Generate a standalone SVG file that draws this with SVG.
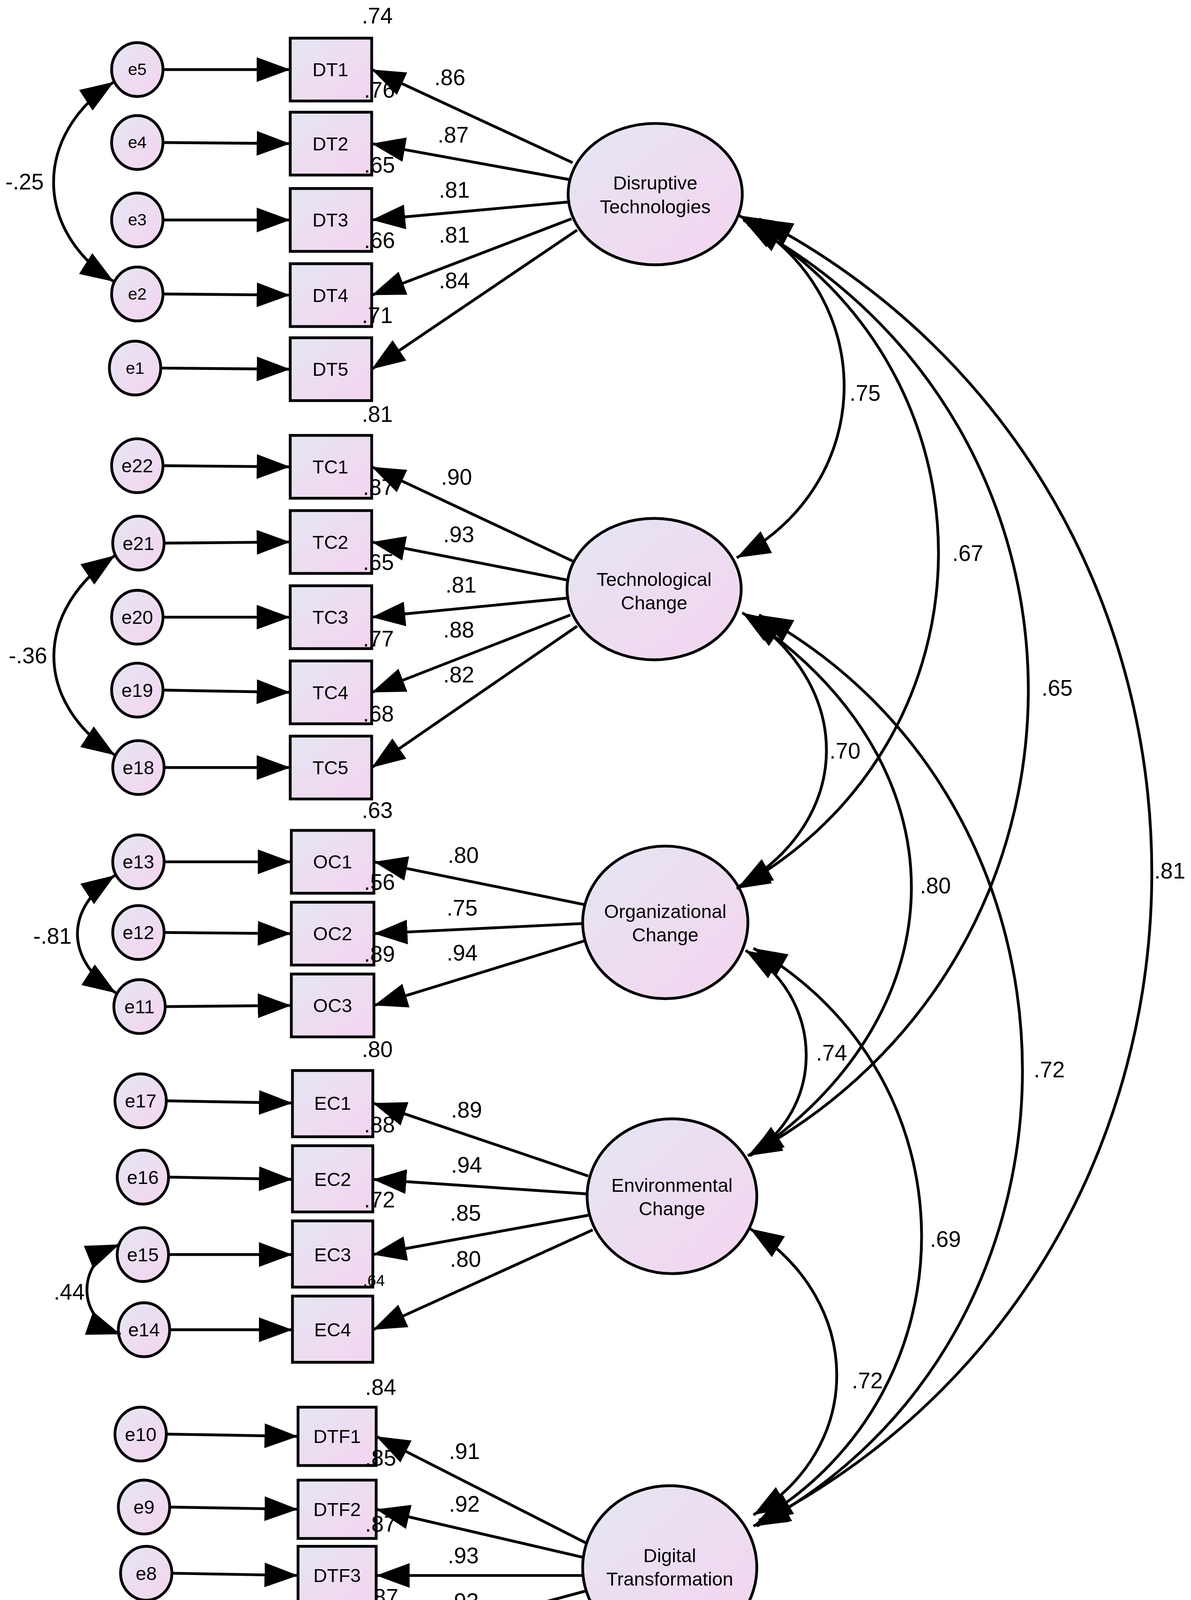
<svg xmlns="http://www.w3.org/2000/svg" width="3050" height="4490" viewBox="0 0 3050 4490">
<defs>
<linearGradient id="g" x1="0" y1="0" x2="1" y2="1"><stop offset="0" stop-color="#e4e6f2"/><stop offset="1" stop-color="#f5d4f0"/></linearGradient>
<marker id="a" viewBox="0 0 10 10" refX="10" refY="5" markerWidth="30" markerHeight="22" markerUnits="userSpaceOnUse" orient="auto-start-reverse" preserveAspectRatio="none"><path d="M0,0L10,5L0,10z" fill="#000"/></marker>
<style>
.n{fill:url(#g);stroke:#000;stroke-width:2.5}
.c path,.c line{fill:none;stroke:#000;stroke-width:2.5}
.s{marker-end:url(#a)}
.d{marker-start:url(#a);marker-end:url(#a)}
text{font-family:"Liberation Sans",Arial,sans-serif;fill:#000}
.l{font-size:17px;text-anchor:middle}
.e{font-size:15px;text-anchor:middle}
.v{font-size:20px;text-anchor:middle}
</style>
</defs>
<rect width="3050" height="4490" fill="#fff"/>
<g transform="scale(2.8585,2.8727)">
<g id="errors">
<g id="e5"><ellipse class="n" cx="123" cy="62" rx="23" ry="24"/><text class="e" x="123" y="67" font-size="13">e5</text></g>
<g id="e4"><ellipse class="n" cx="123" cy="127" rx="23" ry="24"/><text class="e" x="123" y="132">e4</text></g>
<g id="e3"><ellipse class="n" cx="123" cy="196" rx="23" ry="24"/><text class="e" x="123" y="201">e3</text></g>
<g id="e2"><ellipse class="n" cx="123" cy="262" rx="23" ry="24"/><text class="e" x="123" y="267">e2</text></g>
<g id="e1"><ellipse class="n" cx="121" cy="328" rx="23" ry="24"/><text class="e" x="121" y="333">e1</text></g>
<g id="e22"><ellipse class="n" cx="123" cy="415" rx="23" ry="24"/><text class="e" x="123" y="421" style="font-size:17px">e22</text></g>
<g id="e21"><ellipse class="n" cx="124" cy="484" rx="23" ry="24"/><text class="e" x="124" y="490" style="font-size:17px">e21</text></g>
<g id="e20"><ellipse class="n" cx="123" cy="550" rx="23" ry="24"/><text class="e" x="123" y="556" style="font-size:17px">e20</text></g>
<g id="e19"><ellipse class="n" cx="123" cy="615" rx="23" ry="24"/><text class="e" x="123" y="621" style="font-size:17px">e19</text></g>
<g id="e18"><ellipse class="n" cx="124" cy="684" rx="23" ry="24"/><text class="e" x="124" y="690" style="font-size:17px">e18</text></g>
<g id="e13"><ellipse class="n" cx="124" cy="768" rx="23" ry="24"/><text class="e" x="124" y="774" style="font-size:17px">e13</text></g>
<g id="e12"><ellipse class="n" cx="124" cy="831" rx="23" ry="24"/><text class="e" x="124" y="837" style="font-size:17px">e12</text></g>
<g id="e11"><ellipse class="n" cx="125" cy="897" rx="23" ry="24"/><text class="e" x="125" y="903" style="font-size:17px">e11</text></g>
<g id="e17"><ellipse class="n" cx="126" cy="981" rx="23" ry="24"/><text class="e" x="126" y="987" style="font-size:17px">e17</text></g>
<g id="e16"><ellipse class="n" cx="128" cy="1049" rx="23" ry="24"/><text class="e" x="128" y="1055" style="font-size:17px">e16</text></g>
<g id="e15"><ellipse class="n" cx="128" cy="1118" rx="23" ry="24"/><text class="e" x="128" y="1124" style="font-size:17px">e15</text></g>
<g id="e14"><ellipse class="n" cx="129" cy="1185" rx="23" ry="24"/><text class="e" x="129" y="1191" style="font-size:17px">e14</text></g>
<g id="e10"><ellipse class="n" cx="126" cy="1278" rx="23" ry="24"/><text class="e" x="126" y="1284" style="font-size:17px">e10</text></g>
<g id="e9"><ellipse class="n" cx="129" cy="1343" rx="23" ry="24"/><text class="e" x="129" y="1349" style="font-size:17px">e9</text></g>
<g id="e8"><ellipse class="n" cx="131" cy="1402" rx="23" ry="24"/><text class="e" x="131" y="1408" style="font-size:17px">e8</text></g>
<g id="e7"><ellipse class="n" cx="130" cy="1466" rx="23" ry="24"/><text class="e" x="130" y="1472" style="font-size:17px">e7</text></g>
<g id="e6"><ellipse class="n" cx="133" cy="1531" rx="23" ry="24"/><text class="e" x="133" y="1537" style="font-size:17px">e6</text></g>
</g>
<g id="observed">
<g id="DT1"><rect class="n" x="260" y="34" width="73" height="56"/><text class="l" x="296" y="68">DT1</text></g>
<g id="DT2"><rect class="n" x="260" y="100" width="73" height="56"/><text class="l" x="296" y="134">DT2</text></g>
<g id="DT3"><rect class="n" x="260" y="168" width="73" height="56"/><text class="l" x="296" y="202">DT3</text></g>
<g id="DT4"><rect class="n" x="260" y="235" width="73" height="56"/><text class="l" x="296" y="269">DT4</text></g>
<g id="DT5"><rect class="n" x="260" y="301" width="73" height="56"/><text class="l" x="296" y="335">DT5</text></g>
<g id="TC1"><rect class="n" x="260" y="388" width="73" height="56"/><text class="l" x="296" y="422">TC1</text></g>
<g id="TC2"><rect class="n" x="260" y="455" width="73" height="56"/><text class="l" x="296" y="489">TC2</text></g>
<g id="TC3"><rect class="n" x="260" y="522" width="73" height="56"/><text class="l" x="296" y="556">TC3</text></g>
<g id="TC4"><rect class="n" x="260" y="589" width="73" height="56"/><text class="l" x="296" y="623">TC4</text></g>
<g id="TC5"><rect class="n" x="260" y="656" width="73" height="56"/><text class="l" x="296" y="690">TC5</text></g>
<g id="OC1"><rect class="n" x="261" y="740" width="74" height="56"/><text class="l" x="298" y="774">OC1</text></g>
<g id="OC2"><rect class="n" x="261" y="804" width="74" height="56"/><text class="l" x="298" y="838">OC2</text></g>
<g id="OC3"><rect class="n" x="261" y="868" width="74" height="56"/><text class="l" x="298" y="902">OC3</text></g>
<g id="EC1"><rect class="n" x="262" y="954" width="72" height="59"/><text class="l" x="298" y="989">EC1</text></g>
<g id="EC2"><rect class="n" x="262" y="1021" width="72" height="59"/><text class="l" x="298" y="1057">EC2</text></g>
<g id="EC3"><rect class="n" x="262" y="1088" width="72" height="59"/><text class="l" x="298" y="1124">EC3</text></g>
<g id="EC4"><rect class="n" x="262" y="1155" width="72" height="59"/><text class="l" x="298" y="1191">EC4</text></g>
<g id="DTF1"><rect class="n" x="267" y="1254" width="70" height="52"/><text class="l" x="302" y="1286">DTF1</text></g>
<g id="DTF2"><rect class="n" x="267" y="1319" width="70" height="52"/><text class="l" x="302" y="1351">DTF2</text></g>
<g id="DTF3"><rect class="n" x="267" y="1378" width="70" height="52"/><text class="l" x="302" y="1410">DTF3</text></g>
<g id="DTF4"><rect class="n" x="267" y="1442" width="70" height="52"/><text class="l" x="302" y="1474">DTF4</text></g>
<g id="DTF5"><rect class="n" x="267" y="1505" width="70" height="52"/><text class="l" x="302" y="1537">DTF5</text></g>
</g>
<g id="latents">
<g id="DT"><ellipse class="n" cx="587" cy="173" rx="78" ry="63"/><text class="l" x="587" y="169">Disruptive</text><text class="l" x="587" y="190">Technologies</text></g>
<g id="TC"><ellipse class="n" cx="586" cy="525" rx="78" ry="63"/><text class="l" x="586" y="522">Technological</text><text class="l" x="586" y="543">Change</text></g>
<g id="OC"><ellipse class="n" cx="596" cy="822" rx="74" ry="68"/><text class="l" x="596" y="818">Organizational</text><text class="l" x="596" y="839">Change</text></g>
<g id="EC"><ellipse class="n" cx="602" cy="1066" rx="76" ry="69"/><text class="l" x="602" y="1062">Environmental</text><text class="l" x="602" y="1083">Change</text></g>
<g id="DTF"><ellipse class="n" cx="600" cy="1397" rx="78" ry="73"/><text class="l" x="600" y="1392">Digital</text><text class="l" x="600" y="1413">Transformation</text></g>
</g>
<g id="connectors" class="c">
<line class="s" x1="146" y1="62" x2="260" y2="62"/>
<line class="s" x1="146" y1="127" x2="260" y2="128"/>
<line class="s" x1="146" y1="196" x2="260" y2="196"/>
<line class="s" x1="146" y1="262" x2="260" y2="263"/>
<line class="s" x1="144" y1="328" x2="260" y2="329"/>
<line class="s" x1="146" y1="415" x2="260" y2="416"/>
<line class="s" x1="147" y1="484" x2="260" y2="483"/>
<line class="s" x1="146" y1="550" x2="260" y2="550"/>
<line class="s" x1="146" y1="615" x2="260" y2="617"/>
<line class="s" x1="147" y1="684" x2="260" y2="684"/>
<line class="s" x1="147" y1="768" x2="261" y2="768"/>
<line class="s" x1="147" y1="831" x2="261" y2="832"/>
<line class="s" x1="148" y1="897" x2="261" y2="896"/>
<line class="s" x1="149" y1="981" x2="262" y2="983"/>
<line class="s" x1="151" y1="1049" x2="262" y2="1051"/>
<line class="s" x1="151" y1="1118" x2="262" y2="1118"/>
<line class="s" x1="152" y1="1185" x2="262" y2="1185"/>
<line class="s" x1="149" y1="1278" x2="267" y2="1280"/>
<line class="s" x1="152" y1="1343" x2="267" y2="1345"/>
<line class="s" x1="154" y1="1402" x2="267" y2="1404"/>
<line class="s" x1="153" y1="1466" x2="267" y2="1468"/>
<line class="s" x1="156" y1="1531" x2="267" y2="1531"/>
<line class="s" x1="513" y1="145" x2="333" y2="62"/>
<line class="s" x1="510" y1="160" x2="333" y2="128"/>
<line class="s" x1="509" y1="180" x2="333" y2="196"/>
<line class="s" x1="512" y1="195" x2="333" y2="263"/>
<line class="s" x1="517" y1="205" x2="333" y2="329"/>
<line class="s" x1="513" y1="500" x2="333" y2="416"/>
<line class="s" x1="509" y1="517" x2="333" y2="483"/>
<line class="s" x1="508" y1="533" x2="333" y2="550"/>
<line class="s" x1="511" y1="548" x2="333" y2="617"/>
<line class="s" x1="517" y1="558" x2="333" y2="684"/>
<line class="s" x1="523" y1="806" x2="335" y2="768"/>
<line class="s" x1="522" y1="823" x2="335" y2="832"/>
<line class="s" x1="525" y1="838" x2="335" y2="896"/>
<line class="s" x1="527" y1="1048" x2="334" y2="983"/>
<line class="s" x1="527" y1="1064" x2="334" y2="1051"/>
<line class="s" x1="527" y1="1083" x2="334" y2="1118"/>
<line class="s" x1="531" y1="1096" x2="334" y2="1185"/>
<line class="s" x1="525" y1="1375" x2="337" y2="1280"/>
<line class="s" x1="523" y1="1388" x2="337" y2="1345"/>
<line class="s" x1="522" y1="1404" x2="337" y2="1404"/>
<line class="s" x1="524" y1="1418" x2="337" y2="1468"/>
<line class="s" x1="530" y1="1432" x2="337" y2="1531"/>
<path class="d" d="M102,73 C30,120 30,205 102,251"/>
<path class="d" d="M103,495 C30,545 30,625 103,673"/>
<path class="d" d="M103,780 C58,810 58,855 104,885"/>
<path class="d" d="M107,1109 C68,1125 68,1175 108,1189"/>
<path class="d" d="M662,192 C788,260 788,430 660,497"/>
<path class="d" d="M666,196 C900,330 900,660 660,792"/>
<path class="d" d="M670,200 C1005,380 1005,850 670,1030"/>
<path class="d" d="M680,195 C1150,440 1150,1120 675,1360"/>
<path class="d" d="M665,546 C766,610 766,730 662,790"/>
<path class="d" d="M670,550 C865,680 865,900 672,1030"/>
<path class="d" d="M680,548 C995,720 995,1190 678,1360"/>
<path class="d" d="M668,847 C740,890 740,990 670,1030"/>
<path class="d" d="M675,845 C875,960 875,1240 680,1355"/>
<path class="d" d="M672,1095 C775,1160 775,1290 675,1350"/>
</g>
<g id="labels" class="v">
<text x="338" y="21">.74</text><text x="340" y="87">.76</text><text x="340" y="154">.65</text><text x="340" y="221">.66</text><text x="338" y="288">.71</text>
<text x="338" y="376">.81</text><text x="339" y="441">.87</text><text x="339" y="508">.65</text><text x="339" y="576">.77</text><text x="339" y="643">.68</text>
<text x="338" y="729">.63</text><text x="340" y="793">.56</text><text x="340" y="857">.89</text>
<text x="338" y="942">.80</text><text x="340" y="1009">.88</text><text x="340" y="1076">.72</text><text x="335" y="1146" style="font-size:14px">.64</text>
<text x="341" y="1243">.84</text><text x="341" y="1306">.85</text><text x="341" y="1365">.87</text><text x="343" y="1430">.87</text><text x="342" y="1494">.75</text>
<text x="403" y="76">.86</text><text x="406" y="127">.87</text><text x="407" y="176">.81</text><text x="407" y="216">.81</text><text x="407" y="257">.84</text>
<text x="409" y="432">.90</text><text x="411" y="483">.93</text><text x="413" y="528">.81</text><text x="411" y="568">.88</text><text x="411" y="608">.82</text>
<text x="415" y="769">.80</text><text x="414" y="816">.75</text><text x="414" y="856">.94</text>
<text x="418" y="996">.89</text><text x="418" y="1045">.94</text><text x="417" y="1088">.85</text><text x="417" y="1129">.80</text>
<text x="416" y="1300">.91</text><text x="416" y="1347">.92</text><text x="415" y="1393">.93</text><text x="415" y="1434">.93</text><text x="415" y="1473">.87</text>
<text x="22" y="169">-.25</text><text x="25" y="591">-.36</text><text x="47" y="841">-.81</text><text x="62" y="1158">.44</text>
<text x="775" y="357">.75</text><text x="867" y="500">.67</text><text x="947" y="620">.65</text><text x="1048" y="783">.81</text>
<text x="757" y="676">.70</text><text x="838" y="796">.80</text><text x="940" y="960">.72</text>
<text x="745" y="945">.74</text><text x="847" y="1111">.69</text><text x="777" y="1237">.72</text>
</g>
</g>
</svg>
